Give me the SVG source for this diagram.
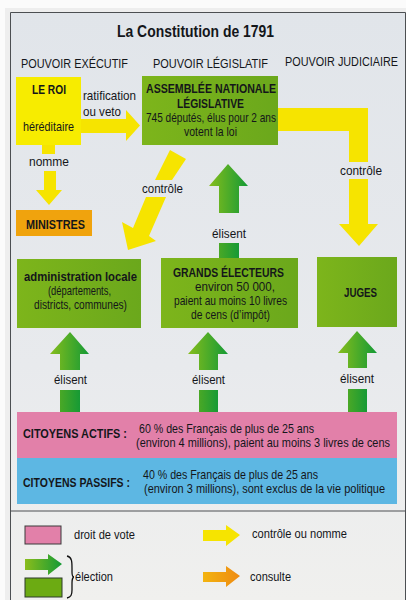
<svg xmlns="http://www.w3.org/2000/svg" width="406" height="600" viewBox="0 0 406 600">
<style>
text{font-family:"Liberation Sans",Arial,sans-serif;fill:#14161a;font-size:13px}
.b{font-weight:bold}
.y{fill:#f6e400}
.g{fill:url(#ga)}
.gs{fill:url(#gs)}
.box{fill:url(#gb)}
</style>
<defs>
<linearGradient id="bg" x1="0" y1="0" x2="0" y2="1"><stop offset="0" stop-color="#e1e5ea"/><stop offset="0.6" stop-color="#e8eaed"/><stop offset="1" stop-color="#f0f0ee"/></linearGradient>
<linearGradient id="ga" x1="0" y1="0" x2="1" y2="0"><stop offset="0" stop-color="#86bd1c"/><stop offset="1" stop-color="#149a35"/></linearGradient>
<linearGradient id="gs" x1="0" y1="0" x2="1" y2="0"><stop offset="0" stop-color="#4aa826"/><stop offset="1" stop-color="#169a35"/></linearGradient>
<linearGradient id="gb" x1="0" y1="0" x2="1" y2="0"><stop offset="0" stop-color="#7db51b"/><stop offset="1" stop-color="#6ba81c"/></linearGradient>
<linearGradient id="go" x1="0" y1="0" x2="1" y2="0"><stop offset="0" stop-color="#f3b40f"/><stop offset="1" stop-color="#ee8a12"/></linearGradient>
<linearGradient id="gl" x1="0" y1="0" x2="1" y2="0"><stop offset="0" stop-color="#8abd1c"/><stop offset="1" stop-color="#149a35"/></linearGradient>
</defs>
<rect width="406" height="600" fill="#fbfbfb"/>
<rect x="5" y="8" width="401" height="592" fill="#eeeeee"/>
<rect x="10" y="13" width="396" height="587" fill="url(#bg)"/>
<path d="M10.500 600V12.500H405.500V600M11 511H406" fill="none" stroke="#4c4f52" stroke-width="1"/>

<g id="title">
<text class="b" x="117" y="37" style="font-size:17px" textLength="157" lengthAdjust="spacingAndGlyphs">La Constitution de 1791</text>
<text x="21" y="68" textLength="107" lengthAdjust="spacingAndGlyphs">POUVOIR EXÉCUTIF</text>
<text x="153" y="68" textLength="115" lengthAdjust="spacingAndGlyphs">POUVOIR LÉGISLATIF</text>
<text transform="translate(285 66) scale(.81 1)" textLength="139.500" lengthAdjust="spacingAndGlyphs">POUVOIR JUDICIAIRE</text>
</g>

<g id="connectors">
<path class="y" d="M81 119H126V110L140 125.500 126 141V133H81Z"/>
<path class="y" d="M42 145H55V154H42Z"/>
<path class="y" d="M44 171H56V190H62L49 205 36 190H44Z"/>
<path class="y" d="M278 108H368V162H349V131H278Z"/>
<path class="y" d="M349 179H368V224H378L359 246 339 224H349Z"/>
<path class="y" d="M170 150 186 159 172 180H155Z"/>
<path class="y" d="M146 197H166L149 236 156 241 128 250 122 222 133 228Z"/>
<path class="g" d="M228 164 248 186H239V213H219V186H209Z"/>
<rect class="gs" x="219" y="243" width="20" height="15"/>
<path class="g" d="M70 332 89 354H80V370H60V354H50Z"/>
<rect class="gs" x="60" y="390" width="20" height="22"/>
<path class="g" d="M208 332 228 354H218V370H199V354H188Z"/>
<rect class="gs" x="199" y="390" width="19" height="22"/>
<path class="g" d="M357 331 377 353H367V368H348V353H338Z"/>
<rect class="gs" x="348" y="389" width="19" height="23"/>
<g>
<text x="83" y="100" textLength="53" lengthAdjust="spacingAndGlyphs">ratification</text>
<text x="83" y="116" textLength="38" lengthAdjust="spacingAndGlyphs">ou veto</text>
<text x="29" y="166" textLength="40" lengthAdjust="spacingAndGlyphs">nomme</text>
<text x="142" y="193" textLength="41" lengthAdjust="spacingAndGlyphs">contrôle</text>
<text x="340" y="175" textLength="42" lengthAdjust="spacingAndGlyphs">contrôle</text>
<text x="212" y="238" textLength="34" lengthAdjust="spacingAndGlyphs">élisent</text>
<text x="54" y="384" textLength="33" lengthAdjust="spacingAndGlyphs">élisent</text>
<text x="192" y="384" textLength="33" lengthAdjust="spacingAndGlyphs">élisent</text>
<text x="340" y="383" textLength="34" lengthAdjust="spacingAndGlyphs">élisent</text>
</g>
</g>

<g id="roi">
<rect x="16" y="77" width="65" height="68" fill="#f7ec00"/>
<text class="b" x="32" y="94" textLength="34" lengthAdjust="spacingAndGlyphs">LE ROI</text>
<text x="23" y="131" textLength="51" lengthAdjust="spacingAndGlyphs">héréditaire</text>
</g>
<g id="assemblee">
<rect class="box" x="142" y="76" width="136" height="69"/>
<text class="b" x="146" y="93" textLength="130" lengthAdjust="spacingAndGlyphs">ASSEMBLÉE NATIONALE</text>
<text class="b" x="177" y="108" textLength="67" lengthAdjust="spacingAndGlyphs">LÉGISLATIVE</text>
<text x="146" y="122" textLength="130" lengthAdjust="spacingAndGlyphs">745 députés, élus pour 2 ans</text>
<text x="184" y="136" textLength="53" lengthAdjust="spacingAndGlyphs">votent la loi</text>
</g>
<g id="ministres">
<rect x="16" y="210" width="76" height="26" fill="#f0a30d"/>
<text class="b" x="26" y="229" textLength="59" lengthAdjust="spacingAndGlyphs">MINISTRES</text>
</g>
<g id="administration">
<rect class="box" x="17" y="259" width="124" height="69"/>
<text class="b" x="24" y="281" textLength="113" lengthAdjust="spacingAndGlyphs">administration locale</text>
<text x="48" y="295" textLength="63" lengthAdjust="spacingAndGlyphs">(départements,</text>
<text x="34" y="309" textLength="93" lengthAdjust="spacingAndGlyphs">districts, communes)</text>
</g>
<g id="grands-electeurs">
<rect class="box" x="161" y="258" width="137" height="70"/>
<text class="b" x="173" y="277" textLength="111" lengthAdjust="spacingAndGlyphs">GRANDS ÉLECTEURS</text>
<text x="195" y="291" textLength="80" lengthAdjust="spacingAndGlyphs">environ 50 000,</text>
<text x="174" y="305" textLength="113" lengthAdjust="spacingAndGlyphs">paient au moins 10 livres</text>
<text x="191" y="319" textLength="79" lengthAdjust="spacingAndGlyphs">de cens (d’impôt)</text>
</g>
<g id="juges">
<rect class="box" x="317" y="257" width="80" height="70"/>
<text class="b" x="344" y="297" textLength="33" lengthAdjust="spacingAndGlyphs">JUGES</text>
</g>
<g id="citoyens-actifs">
<rect x="17" y="412" width="380" height="46" fill="#e280a9"/>
<text class="b" x="23" y="438" textLength="104" lengthAdjust="spacingAndGlyphs">CITOYENS ACTIFS :</text>
<text x="139" y="433" textLength="175" lengthAdjust="spacingAndGlyphs">60 % des Français de plus de 25 ans</text>
<text transform="translate(136 447) scale(.83 1)" textLength="306" lengthAdjust="spacingAndGlyphs">(environ 4 millions), paient au moins 3 livres de cens</text>
</g>
<g id="citoyens-passifs">
<rect x="17" y="458" width="380" height="46" fill="#5db7e3"/>
<text class="b" x="23" y="487" textLength="107" lengthAdjust="spacingAndGlyphs">CITOYENS PASSIFS :</text>
<text x="143" y="479" textLength="175" lengthAdjust="spacingAndGlyphs">40 % des Français de plus de 25 ans</text>
<text transform="translate(144 493) scale(.82 1)" textLength="294" lengthAdjust="spacingAndGlyphs">(environ 3 millions), sont exclus de la vie politique</text>
</g>

<g id="legende">
<rect x="25" y="526" width="36" height="18" fill="#e280a9" stroke="#3a3a3a"/>
<text x="74" y="539" textLength="61" lengthAdjust="spacingAndGlyphs">droit de vote</text>
<path class="y" d="M203 530H226V525L240 535 226 546V541H203Z"/>
<text x="252" y="538" textLength="95" lengthAdjust="spacingAndGlyphs">contrôle ou nomme</text>
<path fill="url(#gl)" d="M25 559H48V554L62 564 48 575V570H25Z"/>
<rect x="25" y="578" width="37" height="19" fill="#6cab12" stroke="#2d3a2a"/>
<path d="M67 556C72 557 72 562 72 568V572C72 575 73 577 74 577 73 577 72 580 72 583V590C72 595 71 597 67 598" fill="none" stroke="#111" stroke-width="1.300"/>
<text x="75" y="581" textLength="38" lengthAdjust="spacingAndGlyphs">élection</text>
<path fill="url(#go)" d="M203 572H226V566L240 576 226 587V582H203Z"/>
<text x="250" y="581" textLength="41" lengthAdjust="spacingAndGlyphs">consulte</text>
</g>
</svg>
